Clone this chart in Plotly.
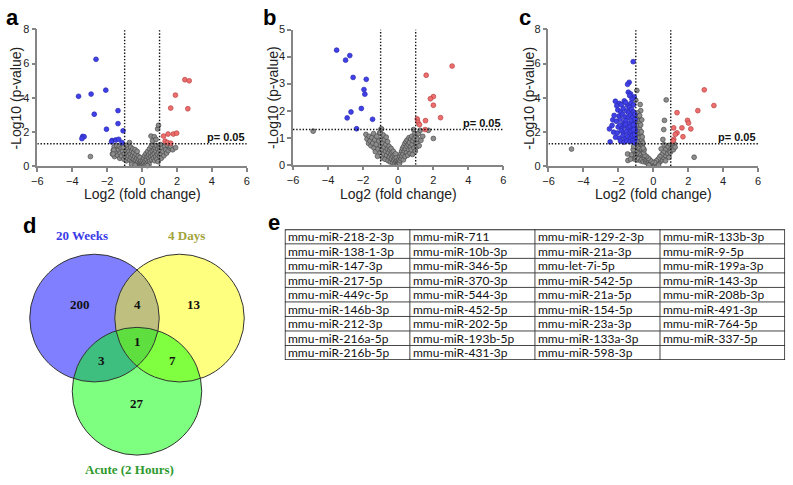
import plotly.graph_objects as go

W, H = 793, 485

# ---------------- DATA ----------------
X_TICKS = [-6, -4, -2, 0, 2, 4, 6]
FC_CUT = 1.0
P_CUT = 1.301  # -log10(0.05)

# Panel a (20 weeks)
a_blue_x = [-2.64, -3.64, -2.92, -2.08, -2.74, -1.38, -1.38, -2.04, -1.09, -3.40, -3.32, -3.45, -1.72, -1.75, -1.51, -1.34, -1.15]
a_blue_y = [6.25, 4.08, 4.21, 4.44, 3.03, 3.24, 2.48, 2.15, 2.06, 1.73, 1.71, 1.60, 1.49, 1.41, 1.52, 1.56, 1.37]
a_red_x = [2.45, 2.70, 1.91, 1.64, 2.62, 1.23, 1.49, 1.79, 1.98, 1.32, 1.45, 1.64]
a_red_y = [5.05, 4.99, 4.15, 3.39, 3.35, 1.75, 1.87, 1.87, 1.92, 1.45, 1.37, 1.33]
a_gray_x = [-1.70, -1.65, -1.60, -1.58, -1.50, -1.45, -1.40, -1.35, -1.30, -1.28, -1.25, -1.20, -1.18, -1.12, -1.10,
            -1.05, -1.02, -0.98, -0.95, -0.92, -0.90, -0.88, -0.85, -0.82, -0.80, -0.78, -0.75, -0.72, -0.70, -0.68,
            -0.65, -0.63, -0.60, -0.58, -0.55, -0.53, -0.50, -0.48, -0.45, -0.43, -0.40, -0.38, -0.35, -0.33, -0.30,
            -0.28, -0.25, -0.22, -0.20, -0.18, -0.15, -0.12, -0.10, -0.08, -0.05, -0.03, 0.00, 0.02, 0.05, 0.08,
            0.10, 0.12, 0.15, 0.18, 0.20, 0.22, 0.25, 0.28, 0.30, 0.32, 0.35, 0.38, 0.40, 0.42, 0.45,
            0.48, 0.50, 0.52, 0.55, 0.58, 0.60, 0.62, 0.65, 0.68, 0.70, 0.72, 0.75, 0.78, 0.80, 0.82,
            0.85, 0.88, 0.90, 0.92, 0.95, 0.98, 1.00, 1.03, 1.05, 1.08, 1.10, 1.15, 1.20, 1.25, 1.30,
            1.35, 1.40, 1.45, 1.50, 1.60, 1.64, 1.75, 1.92, 0.51, 0.70, 0.60, 0.89, 0.94, 0.80, -2.96,
            -1.08, -1.62, -1.66, -0.60, 0.40, -0.40, 0.30]
a_gray_y = [0.70, 0.92, 1.12, 0.55, 0.80, 1.20, 0.62, 0.95, 1.15, 0.45, 0.75, 1.05, 0.58, 0.88, 1.25,
            0.40, 0.70, 1.10, 0.55, 0.90, 0.30, 1.20, 0.72, 0.45, 1.00, 0.60, 0.85, 1.37, 0.35, 0.70,
            1.10, 0.50, 0.88, 0.25, 0.62, 1.00, 0.40, 0.78, 0.20, 0.55, 0.95, 0.35, 0.68, 0.12, 0.45,
            0.85, 0.25, 0.58, 0.08, 0.38, 0.18, 0.50, 0.05, 0.28, 0.12, 0.02, 0.20, 0.06, 0.32, 0.10,
            0.45, 0.18, 0.60, 0.28, 0.05, 0.72, 0.38, 0.15, 0.55, 0.85, 0.25, 0.65, 0.45, 1.00, 0.30,
            0.78, 0.55, 1.15, 0.38, 0.88, 0.62, 1.25, 0.45, 0.95, 0.72, 0.30, 1.05, 0.55, 0.85, 1.20,
            0.40, 0.68, 1.00, 0.25, 0.80, 1.15, 0.55, 0.92, 1.25, 0.70, 0.45, 1.05, 0.85, 0.60, 1.15,
            0.95, 0.75, 1.22, 0.90, 1.05, 1.14, 0.95, 1.07, 1.75, 1.71, 1.47, 2.17, 2.38, 1.55, 0.55,
            1.09, 0.93, 0.70, 0.10, 0.10, 0.05, 0.02]

# Panel b (4 days)
b_blue_x = [-3.51, -3.00, -2.76, -2.57, -1.82, -1.95, -1.90, -2.10, -2.69, -2.91, -1.46, -2.37]
b_blue_y = [4.24, 3.87, 4.04, 3.23, 3.16, 2.78, 2.61, 2.08, 1.95, 1.73, 1.68, 1.33]
b_red_x = [3.08, 1.60, 2.01, 1.84, 2.01, 2.42, 1.09, 1.13, 1.22, 1.56, 1.54]
b_red_y = [3.65, 3.31, 2.52, 2.44, 2.20, 1.74, 1.69, 1.57, 1.48, 1.63, 1.30]
b_gray_x = [-4.85, -1.84, -1.78, -1.69, -1.65, -1.60, -1.55, -1.50, -1.45, -1.40, -1.38, -1.33, -1.30, -1.25, -1.22,
            -1.18, -1.15, -1.10, -1.05, -1.03, -1.00, -0.98, -0.95, -0.92, -0.90, -0.88, -0.85, -0.82, -0.80, -0.78,
            -0.75, -0.72, -0.70, -0.68, -0.65, -0.62, -0.60, -0.58, -0.55, -0.52, -0.50, -0.48, -0.45, -0.42, -0.40,
            -0.38, -0.35, -0.32, -0.30, -0.28, -0.25, -0.22, -0.20, -0.18, -0.15, -0.12, -0.10, -0.08, -0.05, -0.02,
            0.00, 0.03, 0.05, 0.08, 0.10, 0.12, 0.15, 0.18, 0.20, 0.22, 0.25, 0.28, 0.30, 0.32, 0.35,
            0.38, 0.40, 0.42, 0.45, 0.48, 0.50, 0.52, 0.55, 0.58, 0.60, 0.62, 0.65, 0.68, 0.70, 0.72,
            0.75, 0.78, 0.80, 0.82, 0.85, 0.88, 0.90, 0.92, 0.95, 0.98, 1.00, 1.02, 1.05, 1.07, 1.10,
            1.15, 1.20, 1.26, 1.30, 1.40, 1.73, 2.01, -0.94, -1.03]
b_gray_y = [1.24, 1.12, 0.95, 0.79, 1.05, 0.88, 0.70, 1.00, 0.80, 1.15, 0.62, 0.92, 0.48, 0.75, 1.05,
            0.31, 0.58, 0.88, 1.18, 0.45, 0.70, 1.32, 0.95, 0.55, 0.25, 0.80, 1.10, 0.40, 0.65, 0.92,
            0.20, 0.50, 0.75, 1.02, 0.35, 0.58, 0.85, 0.15, 0.45, 0.68, 0.28, 0.55, 0.10, 0.38, 0.60,
            0.22, 0.45, 0.08, 0.30, 0.50, 0.15, 0.35, 0.05, 0.22, 0.40, 0.10, 0.25, 0.03, 0.15, 0.06,
            0.02, 0.10, 0.20, 0.05, 0.30, 0.15, 0.40, 0.22, 0.50, 0.32, 0.60, 0.40, 0.18, 0.68, 0.50,
            0.78, 0.30, 0.58, 0.85, 0.45, 0.68, 0.92, 0.35, 0.75, 0.55, 1.00, 0.82, 0.42, 0.65, 0.95,
            0.55, 1.05, 0.75, 0.38, 0.88, 1.30, 0.62, 0.98, 1.15, 0.50, 0.80, 1.05, 0.65, 0.82, 0.95,
            1.15, 0.70, 1.27, 0.90, 1.05, 1.27, 0.97, 1.32, 1.18]

# Panel c (acute, 2 hours)
c_blue_x = [-1.15, -1.38, -1.47, -1.43, -1.30, -1.09, -1.35, -1.22, -2.17, -1.94, -1.66, -1.47, -2.09, -1.82, -1.58,
            -1.27, -1.12, -1.36, -2.32, -2.51, -2.47, -2.03, -1.86, -1.72, -1.53, -1.41, -1.24, -1.13, -2.24, -1.97,
            -1.77, -1.62, -1.44, -1.31, -1.17, -1.06, -2.12, -1.89, -1.68, -1.57, -1.39, -1.23, -1.11, -1.04, -2.36,
            -2.01, -1.79, -1.66, -1.48, -1.34, -1.21, -1.07, -2.27, -2.06, -1.83, -1.71, -1.54, -1.38, -1.26, -1.13,
            -1.03, -2.16, -1.93, -1.74, -1.61, -1.46, -1.29, -1.19, -1.04, -1.88, -1.69, -1.51, -1.33, -1.18, -1.08,
            -1.59, -1.91, -1.14, -1.12, -1.06]
c_blue_y = [6.11, 4.90, 4.78, 4.32, 4.22, 4.04, 4.12, 3.92, 3.79, 3.66, 3.81, 3.56, 3.52, 3.58, 3.72,
            3.68, 3.58, 3.43, 2.70, 2.17, 1.41, 3.28, 3.17, 3.36, 3.22, 3.12, 3.31, 3.16, 2.96, 2.92,
            3.03, 2.87, 2.83, 2.97, 2.86, 3.02, 2.62, 2.73, 2.52, 2.66, 2.48, 2.63, 2.47, 2.72, 2.37,
            2.28, 2.22, 2.38, 2.18, 2.31, 2.16, 2.33, 1.98, 1.93, 2.06, 1.92, 2.02, 1.87, 2.03, 1.88,
            2.08, 1.68, 1.63, 1.77, 1.58, 1.71, 1.62, 1.78, 1.57, 1.46, 1.39, 1.47, 1.42, 1.48, 1.37,
            2.44, 2.41, 2.41, 2.12, 1.82]
c_red_x = [2.92, 3.47, 2.55, 1.36, 1.96, 2.02, 1.64, 2.15, 1.17, 1.36, 1.26, 1.70, 1.17, 1.13]
c_red_y = [4.46, 3.54, 3.24, 3.12, 2.67, 2.51, 2.23, 2.17, 2.23, 1.94, 1.85, 1.71, 1.56, 1.47]
c_gray_x = [-1.00, -0.95, -0.90, -0.85, -0.80, -0.98, -0.92, -0.86, -0.78, -1.02, -0.95, -0.88, -0.82, -0.75, -0.70,
            -1.00, -0.93, -0.85, -0.78, -0.72, -0.65, -1.03, -0.97, -0.90, -0.83, -0.76, -0.68, -0.62, -1.05, -0.98,
            -0.92, -0.86, -0.80, -0.74, -0.66, -0.60, -1.10, -1.02, -0.95, -0.88, -0.82, -0.76, -0.70, -0.63, -0.56,
            -1.20, -1.08, -0.98, -0.90, -0.84, -0.72, -0.65, -0.58, -0.50, -0.45, -0.40, -0.35, -0.30, -0.25, -0.20,
            -0.15, -0.10, -0.05, 0.00, 0.05, 0.10, 0.15, 0.20, 0.25, 0.30, 0.35, 0.40, 0.45, 0.50, 0.55,
            0.60, 0.65, 0.70, 0.75, 0.80, 0.85, 0.90, 0.95, 1.00, 1.05, 1.10, 1.20, 0.98, 0.88, 0.78,
            0.68, 0.58, 0.48, 0.38, 0.28, 0.18, 0.08, -0.08, -0.18, -0.28, -0.38, -0.48, -0.55, -0.52, -0.58,
            -0.60, -0.63, -0.68, -0.72, -0.66, -0.94, -1.00, -0.75, -0.72, -0.90, -0.78, -1.45, -1.47, -4.68, 2.34,
            0.74, 0.64, 0.60, 0.55, 0.45, 0.62, 0.90, 0.70, -0.25, 0.30, -1.15, -1.12, -1.25, -1.30, 1.15, 1.25]
c_gray_y = [2.95, 2.80, 2.65, 2.90, 2.50, 2.40, 2.25, 2.35, 2.15, 2.05, 1.95, 2.00, 1.85, 1.90, 1.75,
            1.70, 1.60, 1.55, 1.65, 1.45, 1.50, 1.35, 1.25, 1.40, 1.20, 1.30, 1.15, 1.25, 1.05, 0.95,
            1.10, 0.90, 1.00, 0.85, 0.95, 0.80, 0.75, 0.65, 0.80, 0.60, 0.70, 0.55, 0.65, 0.50, 0.60,
            0.50, 0.40, 0.45, 0.35, 0.42, 0.30, 0.38, 0.25, 0.45, 0.30, 0.20, 0.35, 0.15, 0.25, 0.10,
            0.18, 0.05, 0.12, 0.03, 0.10, 0.06, 0.15, 0.10, 0.22, 0.18, 0.30, 0.25, 0.40, 0.35, 0.55,
            0.48, 0.70, 0.62, 0.85, 0.75, 1.00, 0.90, 1.15, 1.05, 1.25, 1.20, 1.30, 0.80, 1.20, 1.10,
            0.95, 0.80, 0.65, 0.55, 0.40, 0.30, 0.20, 0.25, 0.35, 0.45, 0.55, 0.62, 0.78, 0.95, 1.05,
            1.35, 1.70, 2.00, 2.40, 2.70, 4.42, 3.85, 3.60, 3.24, 3.10, 2.95, 0.32, 0.70, 0.99, 0.51,
            3.87, 2.67, 2.13, 1.55, 1.00, 1.25, 0.50, 0.30, 0.05, 0.05, 0.95, 1.15, 0.65, 0.40, 0.95, 1.10]

# Venn (d)
venn_sets = ["20 Weeks", "4 Days", "Acute (2 Hours)"]
venn_regions = ["20W only", "20W & 4D", "4D only", "all three", "20W & Acute", "4D & Acute", "Acute only"]
venn_counts = [200, 4, 13, 1, 3, 7, 27]

# Table (e)
table_cols = [
    ["mmu-miR-218-2-3p", "mmu-miR-138-1-3p", "mmu-miR-147-3p", "mmu-miR-217-5p", "mmu-miR-449c-5p",
     "mmu-miR-146b-3p", "mmu-miR-212-3p", "mmu-miR-216a-5p", "mmu-miR-216b-5p"],
    ["mmu-miR-711", "mmu-miR-10b-3p", "mmu-miR-346-5p", "mmu-miR-370-3p", "mmu-miR-544-3p",
     "mmu-miR-452-5p", "mmu-miR-202-5p", "mmu-miR-193b-5p", "mmu-miR-431-3p"],
    ["mmu-miR-129-2-3p", "mmu-miR-21a-3p", "mmu-let-7i-5p", "mmu-miR-542-5p", "mmu-miR-21a-5p",
     "mmu-miR-154-5p", "mmu-miR-23a-3p", "mmu-miR-133a-3p", "mmu-miR-598-3p"],
    ["mmu-miR-133b-3p", "mmu-miR-9-5p", "mmu-miR-199a-3p", "mmu-miR-143-3p", "mmu-miR-208b-3p",
     "mmu-miR-491-3p", "mmu-miR-764-5p", "mmu-miR-337-5p", ""],
]

# ---------------- FIGURE ----------------
fig = go.Figure()
FONT = "Liberation Sans, Arial, sans-serif"
SERIF = "Liberation Serif, Times New Roman, serif"

def px_x(p):
    return p / W

def px_y(p):
    return 1 - p / H

panels = [
    dict(n="", xd=[31.7, 243.6], yd=[164, 24], ymax=8, ytick=[0, 2, 4, 6, 8],
         blue=(a_blue_x, a_blue_y), red=(a_red_x, a_red_y), gray=(a_gray_x, a_gray_y),
         letter="a", lx=7, ytx=10),
    dict(n="2", xd=[290.3, 503.0], yd=[162.7, 24.2], ymax=5, ytick=[0, 1, 2, 3, 4, 5],
         blue=(b_blue_x, b_blue_y), red=(b_red_x, b_red_y), gray=(b_gray_x, b_gray_y),
         letter="b", lx=267, ytx=270),
    dict(n="3", xd=[548.7, 760.7], yd=[164, 24], ymax=8, ytick=[0, 2, 4, 6, 8],
         blue=(c_blue_x, c_blue_y), red=(c_red_x, c_red_y), gray=(c_gray_x, c_gray_y),
         letter="c", lx=525, ytx=529),
]

annotations = []
shapes = []
AXC = "#858585"
DOT = dict(color="#111", width=1.4, dash="1.4px,1.8px")
for p in panels:
    n = p["n"]
    xa, ya = "x" + n, "y" + n
    for key, fill, edge in [("gray", "#8e8e8e", "#4a4a4a"), ("blue", "#4040e8", "#2a2ab0"), ("red", "#ee6e6e", "#b84040")]:
        xs, ys = p[key]
        fig.add_trace(go.Scatter(x=xs, y=ys, mode="markers", xaxis=xa, yaxis=ya, showlegend=False,
                                 cliponaxis=False, hoverinfo="skip",
                                 marker=dict(size=4.8, color=fill, line=dict(color=edge, width=0.7))))
    fig.layout["xaxis" + n] = dict(domain=[px_x(p["xd"][0]), px_x(p["xd"][1])], range=[-6, 6], anchor=ya,
                                   tickvals=X_TICKS, showgrid=False, zeroline=False, showline=True,
                                   linecolor=AXC, linewidth=1.5, ticks="outside", ticklen=4, tickwidth=1.5,
                                   tickcolor=AXC, tickfont=dict(size=11, color="#222", family=FONT))
    fig.layout["yaxis" + n] = dict(domain=[px_y(p["yd"][0]), px_y(p["yd"][1])], range=[0, p["ymax"]], anchor=xa,
                                   tickvals=p["ytick"], showgrid=False, zeroline=False, showline=True,
                                   linecolor=AXC, linewidth=1.5, ticks="outside", ticklen=4, tickwidth=1.5,
                                   tickcolor=AXC, tickfont=dict(size=11, color="#222", family=FONT))
    for xv in (-FC_CUT, FC_CUT):
        shapes.append(dict(type="line", xref=xa, yref=ya, x0=xv, x1=xv, y0=0, y1=p["ymax"], line=DOT))
    shapes.append(dict(type="line", xref=xa, yref=ya, x0=-6, x1=6, y0=P_CUT, y1=P_CUT, line=DOT))
    annotations.append(dict(text="<b>p= 0.05</b>", x=6, y=P_CUT, xref=xa, yref=ya, xanchor="right",
                            yanchor="bottom", yshift=-1, showarrow=False,
                            font=dict(size=11, color="#111", family=FONT)))
    annotations.append(dict(text="-Log10 (p-value)", x=px_x(p["ytx"]), y=px_y((p["yd"][0] + p["yd"][1]) / 2),
                            xref="paper", yref="paper", textangle=-90, showarrow=False,
                            xanchor="center", yanchor="middle", font=dict(size=14, color="#222", family=FONT)))
    annotations.append(dict(text="Log2 (fold change)", x=px_x((p["xd"][0] + p["xd"][1]) / 2), y=px_y(193),
                            xref="paper", yref="paper", showarrow=False, xanchor="center", yanchor="middle",
                            font=dict(size=14, color="#222", family=FONT)))
    annotations.append(dict(text="<b>%s</b>" % p["letter"], x=px_x(p["lx"]), y=px_y(12), xref="paper",
                            yref="paper", showarrow=False, xanchor="center", yanchor="middle",
                            font=dict(size=22, color="#000", family=FONT)))

# ---- Venn diagram (pixel-scaled axis) ----
fig.add_trace(go.Scatter(x=[], y=[], xaxis="x4", yaxis="y4", showlegend=False))
fig.layout["xaxis4"] = dict(domain=[0, px_x(270)], range=[0, 270], visible=False, anchor="y4")
fig.layout["yaxis4"] = dict(domain=[0, px_y(210)], range=[485, 210], visible=False, anchor="x4")
R = 65.5
venn_centers = [(89.5, 320), (175.5, 320), (132.5, 395)]
venn_fills = ["rgba(0,0,255,0.5)", "rgba(255,255,0,0.5)", "rgba(0,255,0,0.5)"]
for (cx, cy), fc in zip(venn_centers, venn_fills):
    shapes.append(dict(type="circle", xref="x4", yref="y4", x0=cx - R, x1=cx + R, y0=cy - R, y1=cy + R,
                       fillcolor=fc, line=dict(width=0), layer="below"))
for (cx, cy) in venn_centers:
    shapes.append(dict(type="circle", xref="x4", yref="y4", x0=cx - R, x1=cx + R, y0=cy - R, y1=cy + R,
                       line=dict(color="#333", width=1), layer="above"))
venn_label_pos = [(75, 306), (133, 306), (190, 306), (133, 344), (97, 364), (168, 364), (133, 408)]
for (lx, ly), cnt in zip(venn_label_pos, venn_counts):
    annotations.append(dict(text="<b>%d</b>" % cnt, x=lx, y=ly, xref="x4", yref="y4", showarrow=False,
                            font=dict(size=13, color="#111", family=SERIF)))
venn_set_pos = [(77, 235), (183, 235), (125, 475)]
venn_set_colors = ["#3a3ae6", "#a3a33a", "#2e9a2e"]
for (lx, ly), name, col in zip(venn_set_pos, venn_sets, venn_set_colors):
    annotations.append(dict(text="<b>%s</b>" % name, x=lx, y=ly, xref="x4", yref="y4", showarrow=False,
                            font=dict(size=13, color=col, family=SERIF)))
annotations.append(dict(text="<b>d</b>", x=px_x(15), y=px_y(225), xref="paper", yref="paper", showarrow=False,
                        font=dict(size=22, color="#000", family=FONT)))
annotations.append(dict(text="<b>e</b>", x=px_x(271), y=px_y(222), xref="paper", yref="paper", showarrow=False,
                        font=dict(size=22, color="#000", family=FONT)))

# ---- Table (e) on a row/column axis ----
nrows = max(len(c) for c in table_cols)
ncols = len(table_cols)
fig.add_trace(go.Scatter(x=[], y=[], xaxis="x5", yaxis="y5", showlegend=False))
fig.layout["xaxis5"] = dict(domain=[px_x(282), px_x(788)], range=[0, ncols], visible=False, anchor="y5")
fig.layout["yaxis5"] = dict(domain=[px_y(363), px_y(229)], range=[nrows, 0], visible=False, anchor="x5")
for i in range(1, nrows):
    shapes.append(dict(type="line", xref="x5", yref="y5", x0=0, x1=ncols, y0=i, y1=i,
                       line=dict(color="#444", width=1)))
for j in range(1, ncols):
    shapes.append(dict(type="line", xref="x5", yref="y5", x0=j, x1=j, y0=0, y1=nrows,
                       line=dict(color="#444", width=1)))
shapes.append(dict(type="rect", xref="x5", yref="y5", x0=0, x1=ncols, y0=0, y1=nrows,
                   line=dict(color="#222", width=1.6)))
for j, col in enumerate(table_cols):
    for i, txt in enumerate(col):
        if txt:
            annotations.append(dict(text=txt, x=j, y=i + 0.5, xref="x5", yref="y5", showarrow=False,
                                    xanchor="left", yanchor="middle", xshift=1,
                                    font=dict(size=12, color="#111", family="Lato, Carlito, sans-serif")))

fig.update_layout(width=W, height=H, margin=dict(l=0, r=0, t=0, b=0), paper_bgcolor="white",
                  plot_bgcolor="white", shapes=shapes, annotations=annotations)
fig.write_html("out.html", config={"displayModeBar": False},
               post_script="document.documentElement.style.margin='0px';document.body.style.margin='0px';document.body.style.padding='0px';")
